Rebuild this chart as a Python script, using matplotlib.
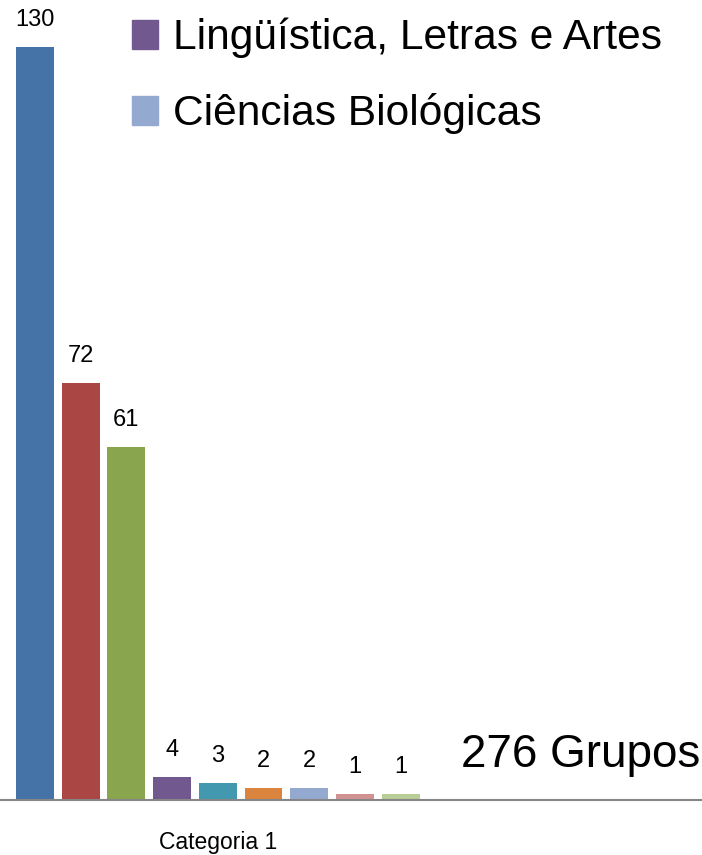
import numpy as np
import matplotlib
matplotlib.use('Agg')
import matplotlib.pyplot as plt
from matplotlib.patches import Patch

plt.rcParams['font.family'] = ['Liberation Sans', 'DejaVu Sans']

# 数据
series = ['Série 1', 'Série 2', 'Série 3', 'Lingüística, Letras e Artes', 'Série 5',
          'Série 6', 'Ciências Biológicas', 'Série 8', 'Série 9']
values = [130, 72, 61, 4, 3, 2, 2, 1, 1]
colors = ['#4572A7', '#AA4643', '#89A54E', '#71588F', '#4198AF',
          '#DB843D', '#93A9CF', '#D19392', '#B9CD96']
category = 'Categoria 1'
total_text = '276 Grupos'

fig = plt.figure(figsize=(7.02, 8.55), dpi=100)
ax = fig.add_axes([0, 55 / 855, 1, 800 / 855])

x = np.arange(len(values))
bars = ax.bar(x, values, width=0.83, color=colors)

# 数据标签
for xi, v in zip(x, values):
    ax.annotate(str(v), (xi, v), xytext=(0, 27), textcoords='offset pixels',
                ha='center', va='center', fontsize=17)

ax.set_xlim(-35 / 45.7, (702 - 35) / 45.7)
ax.set_ylim(0, 800 / 5.79)

ax.set_xticks([4])
ax.set_xticklabels([category], fontsize=16.5)
ax.tick_params(axis='x', length=0, pad=22)
ax.set_yticks([])
for s in ['left', 'right', 'top']:
    ax.spines[s].set_visible(False)
ax.spines['bottom'].set_color('#868686')
ax.spines['bottom'].set_linewidth(1.5)

# 图例只显示两个
handles = [Patch(color=colors[3]), Patch(color=colors[6])]
leg = fig.legend(handles, [series[3], series[6]], loc='upper left',
                 bbox_to_anchor=(132 / 702, 1 - 18 / 855), frameon=False,
                 fontsize=30.6, handlelength=0.62, handleheight=0.66,
                 handletextpad=0.35, labelspacing=0.82, borderpad=0, borderaxespad=0)

fig.text(700 / 702, 1 - 755 / 855, total_text, ha='right', va='center', fontsize=33)

fig.savefig('out.png', dpi=100)
